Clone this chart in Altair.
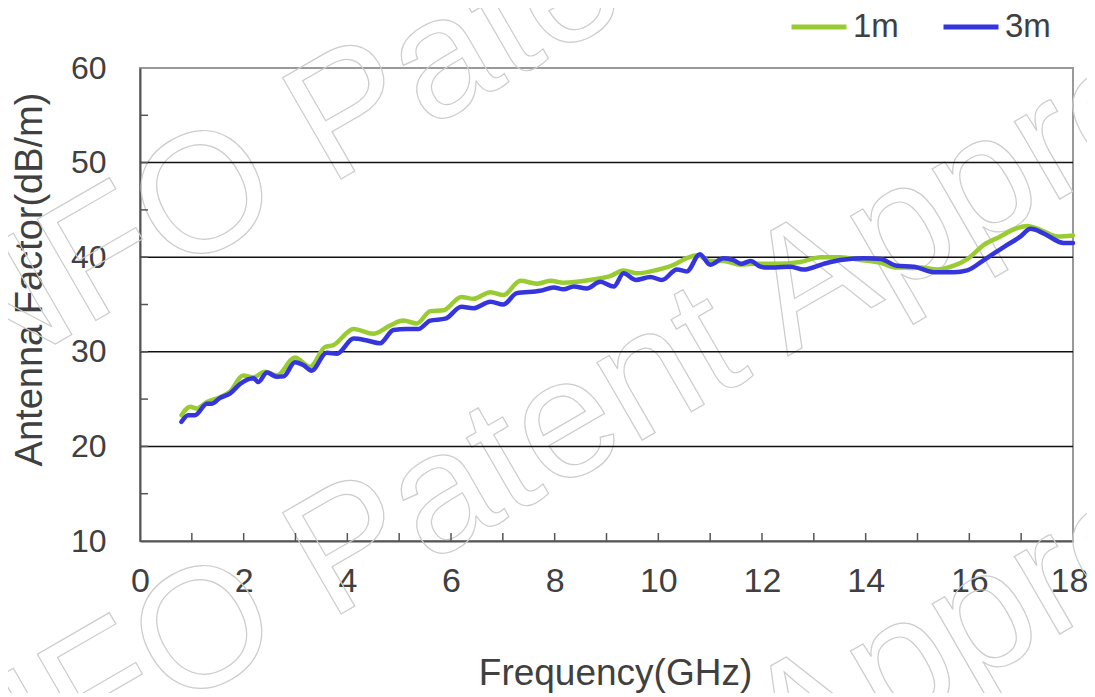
import altair as alt
import pandas as pd

# ---- data ----
freq_1m = [0.8, 0.97, 1.09, 1.29, 1.54, 1.74, 1.99, 2.19, 2.41, 2.64, 2.99, 3.28, 3.57, 3.73,
           4.12, 4.5, 4.83, 5.08, 5.34, 5.6, 5.86, 6.2, 6.43, 6.76, 7.01, 7.34, 7.66, 7.92,
           8.17, 8.69, 9.07, 9.33, 9.59, 9.97, 10.3, 10.55, 10.75, 11.0, 11.26, 11.58, 11.84,
           12.23, 12.74, 13.13, 13.51, 13.9, 14.29, 14.6, 15.06, 15.38, 15.7, 15.96, 16.28,
           16.6, 16.86, 17.12, 17.37, 17.7, 18.0]
af_1m = [23.3, 24.2, 24.0, 24.7, 25.2, 25.8, 27.5, 27.3, 27.9, 27.5, 29.4, 28.4, 30.5, 30.7,
         32.4, 31.9, 32.8, 33.3, 33.0, 34.3, 34.4, 35.8, 35.6, 36.3, 36.0, 37.5, 37.2, 37.5,
         37.3, 37.6, 38.0, 38.6, 38.3, 38.65, 39.2, 39.9, 40.2, 39.6, 39.6, 39.2, 39.3,
         39.3, 39.5, 40.0, 40.0, 39.7, 39.4, 38.9, 38.9, 38.7, 39.1, 39.8, 41.3,
         42.2, 42.95, 43.3, 42.9, 42.2, 42.3]

freq_3m = [0.8, 0.93, 1.06, 1.29, 1.38, 1.54, 1.74, 1.93, 2.19, 2.28, 2.45, 2.64, 2.77, 2.99,
           3.15, 3.31, 3.6, 3.8, 4.12, 4.38, 4.63, 4.89, 5.15, 5.37, 5.6, 5.89, 6.2, 6.43,
           6.76, 7.01, 7.27, 7.72, 7.98, 8.17, 8.37, 8.62, 8.88, 9.14, 9.33, 9.56, 9.85,
           10.07, 10.36, 10.55, 10.8, 11.0, 11.26, 11.45, 11.6, 11.78, 11.97, 12.1, 12.55,
           12.8, 13.19, 13.51, 13.96, 14.29, 14.6, 14.93, 15.32, 15.7, 15.96, 16.28, 16.67,
           16.99, 17.18, 17.44, 17.82, 18.0]
af_3m = [22.6, 23.3, 23.3, 24.5, 24.5, 25.1, 25.6, 26.6, 27.2, 26.8, 27.8, 27.35, 27.4, 28.9,
         28.6, 28.0, 29.9, 29.8, 31.4, 31.2, 30.9, 32.3, 32.4, 32.4, 33.3, 33.5, 34.75, 34.6,
         35.3, 35.0, 36.2, 36.45, 36.8, 36.6, 36.9, 36.7, 37.4, 36.9, 38.3, 37.6, 37.9,
         37.6, 38.7, 38.5, 40.3, 39.2, 39.9, 39.7, 39.3, 39.6, 39.0, 38.9, 39.0,
         38.7, 39.3, 39.7, 39.9, 39.8, 39.1, 39.0, 38.4, 38.4, 38.6, 39.7, 41.1,
         42.2, 43.0, 42.5, 41.5, 41.5]

series_names = ["1m", "3m"]
series_colors = ["#99CC33", "#3535DD"]
x_labels = [0, 2, 4, 6, 8, 10, 12, 14, 16, 18]
x_ticks = list(range(1, 18))
y_labels = [10, 20, 30, 40, 50, 60]
y_ticks = [15, 20, 25, 30, 35, 40, 45, 50, 55]
y_grid = [20, 30, 40, 50]
watermark = ["INFO Patent Approval"]

FONT = "Liberation Sans"
TXT = "#404040"
W, H = 933, 473

df = pd.concat([
    pd.DataFrame({"x": freq_1m, "y": af_1m, "series": "1m"}),
    pd.DataFrame({"x": freq_3m, "y": af_3m, "series": "3m"}),
])

xaxis = alt.Axis(values=x_labels, ticks=False, grid=False, domainColor="#555555", domainWidth=2,
                 labelFont=FONT, labelFontSize=34, labelColor=TXT, labelPadding=23,
                 labelFlush=False, labelOverlap=False,
                 labelOffset={"condition": {"test": "datum.value == 18", "value": -4}, "value": 0},
                 title="Frequency(GHz)", titleFont=FONT, titleFontSize=37, titleFontWeight="normal",
                 titleColor=TXT, titleX=475, titleY=143, titleBaseline="alphabetic", titleAlign="center")
yaxis = alt.Axis(values=y_labels, ticks=False, grid=False, domainColor="#555555", domainWidth=2,
                 labelFont=FONT, labelFontSize=32, labelColor=TXT, labelPadding=34,
                 labelFlush=False, labelOverlap=False,
                 title="Antenna Factor(dB/m)", titleFont=FONT, titleFontSize=38, titleFontWeight="normal",
                 titleColor=TXT, titleAngle=270, titleX=-110, titleY=211,
                 titleAlign="center", titleBaseline="middle")

xenc = alt.X("x:Q", scale=alt.Scale(domain=[0, 18], nice=False, zero=False), axis=xaxis)
yenc = alt.Y("y:Q", scale=alt.Scale(domain=[10, 60], nice=False, zero=False), axis=yaxis)

wm_layers = [
    alt.Chart(pd.DataFrame({"t": watermark})).mark_text(
        font=FONT, fontSize=170, angle=330, align="center", baseline="middle",
        fill="transparent", stroke="#cccccc", strokeWidth=1.2
    ).encode(text="t:N", x=alt.value(619 - 132), y=alt.value(yy - 60))
    for yy in (-53, 382, 817)
]

grid = alt.Chart(pd.DataFrame({"y": y_grid})).mark_rule(color="#111111", strokeWidth=1.5).encode(y=yenc)

xt = alt.Chart(pd.DataFrame({"x": x_ticks})).mark_rule(color="#555555", strokeWidth=1.5).encode(
    x=xenc, y=alt.value(H), y2=alt.value(H - 8))
yt = alt.Chart(pd.DataFrame({"y": y_ticks})).mark_rule(color="#555555", strokeWidth=1.5).encode(
    y=yenc, x=alt.value(0), x2=alt.value(8))

lines = alt.Chart(df).mark_line(strokeWidth=4.5, interpolate="monotone", strokeCap="round").encode(
    x=xenc, y=yenc,
    color=alt.Color("series:N",
                    scale=alt.Scale(domain=series_names, range=series_colors),
                    legend=alt.Legend(title=None, orient="none", legendX=649, legendY=-71,
                                      direction="horizontal", symbolType="stroke",
                                      symbolSize=3025, symbolStrokeWidth=5,
                                      labelFont=FONT, labelFontSize=33, labelColor=TXT,
                                      labelOffset=4, columnPadding=34, padding=0)),
)

chart = alt.layer(*wm_layers, grid, xt, yt, lines).properties(
    width=W, height=H,
    padding={"left": 132, "top": 60, "right": 14, "bottom": 152},
    autosize=alt.AutoSizeParams(type="none"),
    background="white",
).configure_view(stroke="#999999", strokeWidth=2)

chart.save("out.html", embed_options={"renderer": "svg", "actions": False})
